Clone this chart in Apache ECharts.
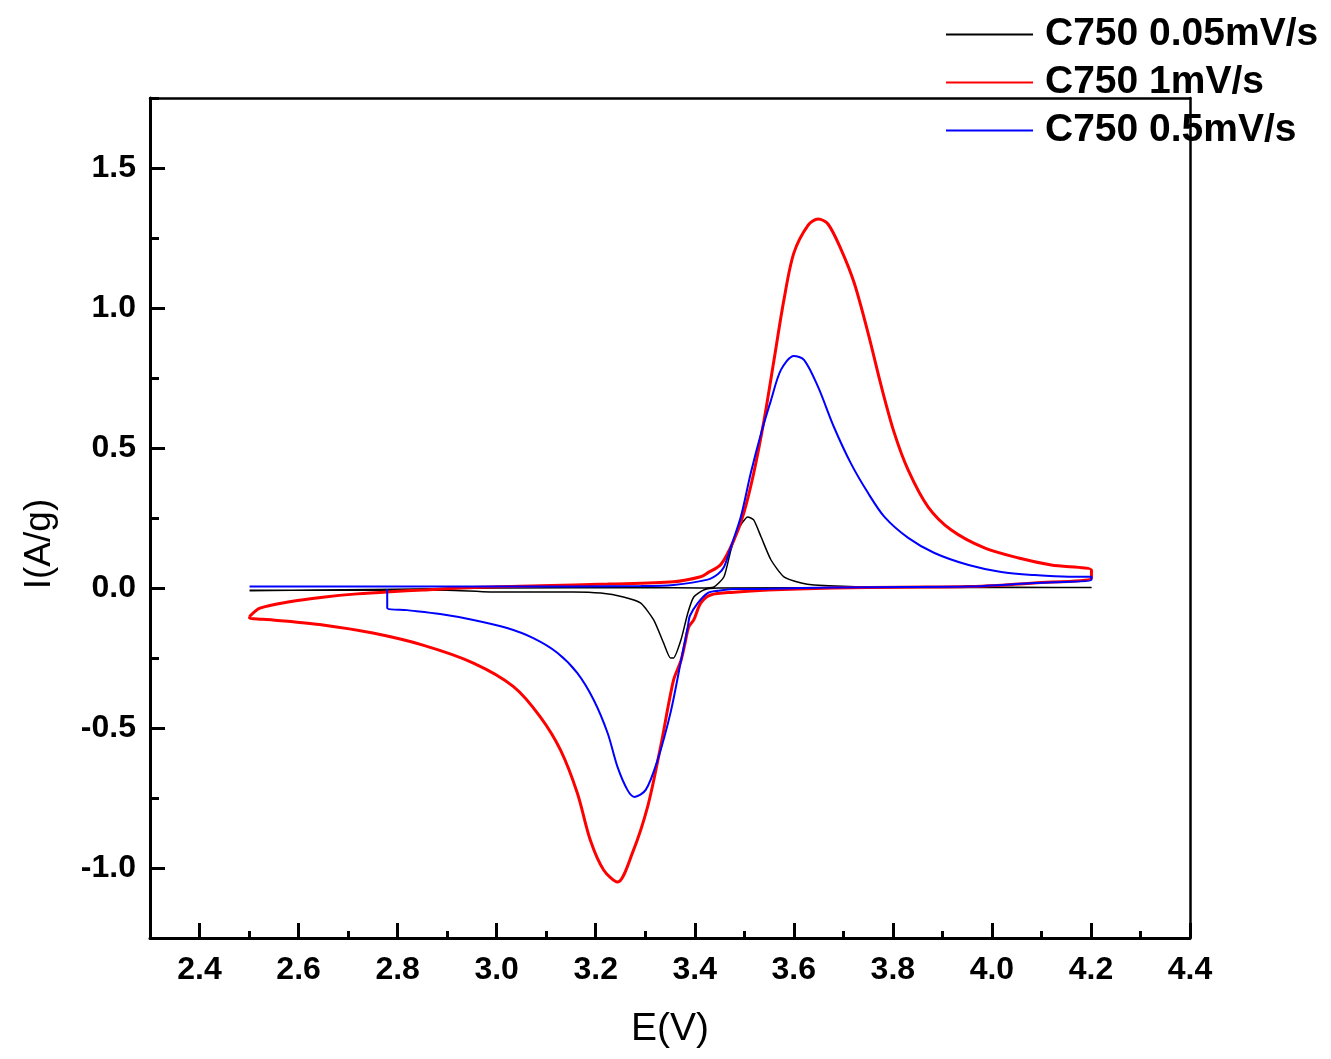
<!DOCTYPE html>
<html><head><meta charset="utf-8">
<script src="https://cdn.jsdelivr.net/npm/echarts@6/dist/echarts.min.js"></script>
<style>html,body{margin:0;padding:0;background:#fff}#c{width:1331px;height:1059px}</style>
</head><body><div id="c"></div>
<script>
const seriesNames = ['C750 0.05mV/s', 'C750 1mV/s', 'C750 0.5mV/s'];
const xTickValues = [2.4, 2.6, 2.8, 3.0, 3.2, 3.4, 3.6, 3.8, 4.0, 4.2, 4.4];
const yTickValues = [-1.0, -0.5, 0.0, 0.5, 1.0, 1.5];

const blackV = [2.501,2.750,3.000,3.300,3.412,3.439,3.459,3.473,3.487,3.507,3.519,3.534,3.554,3.580,3.615,3.641,3.750,4.201,
  4.201,3.447,3.418,3.398,3.386,3.372,3.357,3.351,3.337,3.317,3.291,3.256,3.210,3.155,3.088,2.987,2.900,2.501];
const blackI = [-0.010,-0.005,0.000,0.002,0.000,0.004,0.040,0.136,0.207,0.254,0.243,0.182,0.100,0.040,0.018,0.011,0.004,0.002,
  0.000,0.000,-0.007,-0.032,-0.089,-0.186,-0.250,-0.250,-0.196,-0.114,-0.054,-0.032,-0.018,-0.014,-0.014,-0.014,-0.008,-0.008];

const redV = [2.501,2.522,2.582,2.649,2.718,2.785,2.851,2.953,3.088,3.224,3.357,3.412,3.426,3.453,3.479,3.499,3.519,3.540,3.560,3.580,3.600,3.629,3.649,3.669,3.696,3.722,3.750,3.777,3.803,3.831,3.871,3.918,3.985,4.054,4.120,4.201,
  4.201,4.086,3.953,3.817,3.681,3.548,3.479,3.432,3.412,3.398,3.388,3.380,3.372,3.357,3.331,3.305,3.274,3.244,3.216,3.189,3.163,3.129,3.088,3.034,2.953,2.851,2.750,2.649,2.548,2.501,2.501];
const redI = [-0.102,-0.072,-0.049,-0.033,-0.021,-0.013,-0.007,0.002,0.008,0.014,0.022,0.040,0.054,0.085,0.171,0.268,0.410,0.600,0.814,1.029,1.196,1.296,1.318,1.300,1.207,1.089,0.910,0.718,0.553,0.421,0.290,0.207,0.143,0.107,0.082,0.064,
  0.036,0.018,0.005,0.003,0.000,-0.007,-0.015,-0.025,-0.054,-0.114,-0.138,-0.200,-0.260,-0.330,-0.567,-0.780,-0.947,-1.050,-1.007,-0.900,-0.733,-0.579,-0.460,-0.352,-0.268,-0.204,-0.161,-0.132,-0.114,-0.107,-0.102];

const blueV = [2.501,2.750,3.021,3.291,3.357,3.426,3.447,3.459,3.473,3.493,3.513,3.534,3.554,3.574,3.600,3.621,3.649,3.681,3.715,3.750,3.783,3.831,3.884,3.953,4.019,4.086,4.155,4.201,
  4.201,4.086,3.953,3.750,3.615,3.513,3.479,3.447,3.426,3.406,3.390,3.386,3.372,3.351,3.325,3.301,3.278,3.264,3.244,3.224,3.196,3.163,3.123,3.074,3.021,2.953,2.886,2.819,2.779,2.779];
const blueI = [0.005,0.005,0.005,0.007,0.011,0.030,0.050,0.075,0.147,0.254,0.410,0.553,0.671,0.779,0.829,0.814,0.718,0.575,0.446,0.339,0.254,0.179,0.125,0.082,0.057,0.046,0.040,0.040,
  0.029,0.018,0.005,0.003,0.000,-0.004,-0.004,-0.010,-0.018,-0.054,-0.100,-0.138,-0.262,-0.446,-0.614,-0.721,-0.746,-0.721,-0.639,-0.518,-0.400,-0.304,-0.232,-0.179,-0.143,-0.114,-0.093,-0.079,-0.071,-0.004];

const zip = (a, b) => a.map((v, i) => [v, b[i]]);
const FONT = '"Liberation Sans", Arial, Helvetica, sans-serif';

const chart = echarts.init(document.getElementById('c'), null, {renderer: 'canvas'});
chart.setOption({
  animation: false,
  backgroundColor: '#fff',
  grid: {left: 150, right: 141, top: 98, bottom: 121, containLabel: false},
  legend: {
    orient: 'vertical', left: 946, top: 15, itemGap: 9,
    itemWidth: 87, itemHeight: 2, padding: 0, icon: 'rect',
    textStyle: {fontFamily: FONT, fontSize: 39, fontWeight: 'bold', color: '#000', padding: [0, 0, 0, 7]},
    data: seriesNames
  },
  xAxis: [
    {
      type: 'value', position: 'bottom', min: 2.3, max: 4.4,
      name: 'E(V)', nameLocation: 'middle', nameGap: 72,
      nameTextStyle: {fontFamily: FONT, fontSize: 39, color: '#000'},
      axisLine: {show: true, onZero: false, lineStyle: {color: '#000', width: 3}},
      axisTick: {show: true, inside: true, length: 15, lineStyle: {color: '#000', width: 3}, customValues: xTickValues},
      axisLabel: {show: true, margin: 16, customValues: xTickValues, fontFamily: FONT, fontSize: 32, fontWeight: 'bold', color: '#000',
        formatter: v => v.toFixed(1)},
      splitLine: {show: false}
    },
    {
      type: 'value', position: 'bottom', min: 2.3, max: 4.4, interval: 0.1,
      axisLine: {show: false, onZero: false},
      axisTick: {show: true, inside: true, length: 7, lineStyle: {color: '#000', width: 3}},
      axisLabel: {show: false}, splitLine: {show: false}
    },
    {
      type: 'value', position: 'top', min: 2.3, max: 4.4,
      axisLine: {show: true, onZero: false, lineStyle: {color: '#000', width: 2.5}},
      axisTick: {show: false}, axisLabel: {show: false}, splitLine: {show: false}
    }
  ],
  yAxis: [
    {
      type: 'value', position: 'left', min: -1.25, max: 1.75,
      name: 'I(A/g)', nameLocation: 'middle', nameGap: 92, nameRotate: 90,
      nameTextStyle: {fontFamily: FONT, fontSize: 37, color: '#000', padding: [0, 52, 0, 0]},
      axisLine: {show: true, onZero: false, lineStyle: {color: '#000', width: 3}},
      axisTick: {show: true, inside: true, length: 15, lineStyle: {color: '#000', width: 3}, customValues: yTickValues},
      axisLabel: {show: true, margin: 14, customValues: yTickValues, fontFamily: FONT, fontSize: 32, fontWeight: 'bold', color: '#000',
        formatter: v => v.toFixed(1)},
      splitLine: {show: false}
    },
    {
      type: 'value', position: 'left', min: -1.25, max: 1.75, interval: 0.25,
      axisLine: {show: false, onZero: false},
      axisTick: {show: true, inside: true, length: 9, lineStyle: {color: '#000', width: 3}},
      axisLabel: {show: false}, splitLine: {show: false}
    },
    {
      type: 'value', position: 'right', min: -1.25, max: 1.75,
      axisLine: {show: true, onZero: false, lineStyle: {color: '#000', width: 2.5}},
      axisTick: {show: false}, axisLabel: {show: false}, splitLine: {show: false}
    }
  ],
  series: [
    {name: seriesNames[0], type: 'line', data: zip(blackV, blackI), symbol: 'none', smooth: 0.2,
      lineStyle: {color: '#000', width: 1.5}, itemStyle: {color: '#000'}},
    {name: seriesNames[1], type: 'line', data: zip(redV, redI), symbol: 'none', smooth: 0.3,
      lineStyle: {color: '#ff0000', width: 3}, itemStyle: {color: '#ff0000'}},
    {name: seriesNames[2], type: 'line', data: zip(blueV, blueI), symbol: 'none', smooth: 0.3,
      lineStyle: {color: '#0000ff', width: 2}, itemStyle: {color: '#0000ff'}}
  ]
});
</script></body></html>
